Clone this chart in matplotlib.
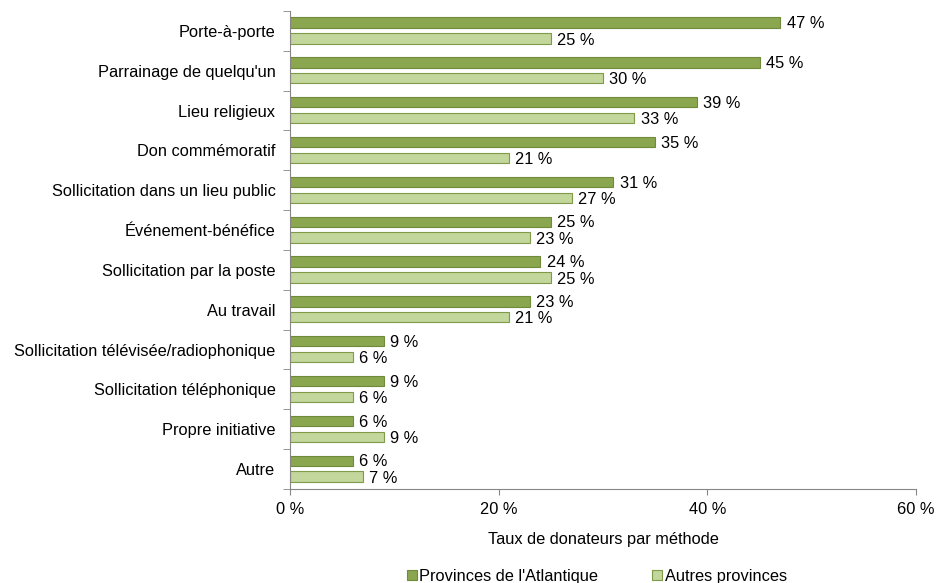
import numpy as np
import matplotlib.pyplot as plt
from matplotlib.ticker import FixedLocator

plt.rcParams['font.family'] = ['Liberation Sans', 'DejaVu Sans']

methods = ['Porte-à-porte', "Parrainage de quelqu'un", 'Lieu religieux',
           'Don commémoratif', 'Sollicitation dans un lieu public',
           'Événement-bénéfice', 'Sollicitation par la poste', 'Au travail',
           'Sollicitation télévisée/radiophonique', 'Sollicitation téléphonique',
           'Propre initiative', 'Autre']
atlantique = [47, 45, 39, 35, 31, 25, 24, 23, 9, 9, 6, 6]
autres = [25, 30, 33, 21, 27, 23, 25, 21, 6, 6, 9, 7]
xticks = [0, 20, 40, 60]

dark = '#8aa64e'
dark_edge = '#6f8a3a'
light = '#c3d69b'
light_edge = '#7f9a48'
fs = 11.8

fig = plt.figure(figsize=(9.38, 5.83), dpi=100)
ax = fig.add_axes([290 / 938, 1 - 489 / 583, 626 / 938, 478 / 583])

y = np.arange(len(methods))
h = 0.26
ax.barh(y - 0.21, atlantique, height=h, color=dark, edgecolor=dark_edge,
        linewidth=0.8, label="Provinces de l'Atlantique")
ax.barh(y + 0.19, autres, height=h, color=light, edgecolor=light_edge,
        linewidth=0.8, label='Autres provinces')

# value labels just right of each bar
for yi, v in zip(y, atlantique):
    ax.text(v + 0.6, yi - 0.18, f'{v} %', va='center', ha='left', fontsize=fs)
for yi, v in zip(y, autres):
    ax.text(v + 0.6, yi + 0.23, f'{v} %', va='center', ha='left', fontsize=fs)

ax.set_ylim(len(methods) - 0.5, -0.5)
ax.set_xlim(0, 60)
ax.set_yticks(y)
ax.set_yticklabels(methods, fontsize=fs)
ax.tick_params(axis='y', length=0, pad=10.5)
ax.yaxis.set_minor_locator(FixedLocator(np.arange(-0.5, len(methods), 1)))
ax.tick_params(axis='y', which='minor', length=5, color='#868686')
ax.set_xticks(xticks)
ax.set_xticklabels([f'{t} %' for t in xticks], fontsize=fs)
ax.tick_params(axis='x', length=4, color='#868686', pad=5)
ax.set_xlabel('Taux de donateurs par méthode', fontsize=fs, labelpad=11.5)

for s in ['top', 'right']:
    ax.spines[s].set_visible(False)
for s in ['left', 'bottom']:
    ax.spines[s].set_color('#868686')

fig.legend(loc='center', bbox_to_anchor=(597 / 938, 1 - 576 / 583), ncol=2,
           frameon=False, fontsize=fs, handlelength=0.6, handleheight=0.6,
           columnspacing=3.3, handletextpad=0.15, borderpad=0)

fig.savefig('out.png', dpi=100)
